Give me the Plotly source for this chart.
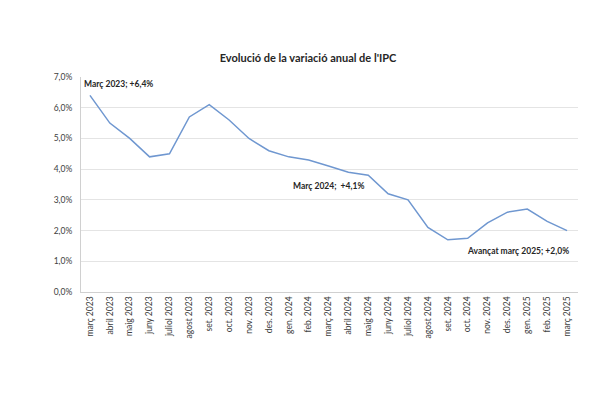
import plotly.graph_objects as go

months = ["març 2023", "abril 2023", "maig 2023", "juny 2023", "juliol 2023", "agost 2023",
          "set. 2023", "oct. 2023", "nov. 2023", "des. 2023", "gen. 2024", "feb. 2024",
          "març 2024", "abril 2024", "maig 2024", "juny 2024", "juliol 2024", "agost 2024",
          "set. 2024", "oct. 2024", "nov. 2024", "des. 2024", "gen. 2025", "feb. 2025", "març 2025"]
ipc = [6.4, 5.5, 5.0, 4.4, 4.5, 5.7, 6.1, 5.6, 5.0, 4.6, 4.4, 4.3,
       4.1, 3.9, 3.8, 3.2, 3.0, 2.1, 1.7, 1.75, 2.25, 2.6, 2.7, 2.3, 2.0]
ytick_vals = [0, 1, 2, 3, 4, 5, 6, 7]
ytick_text = ["0,0%", "1,0%", "2,0%", "3,0%", "4,0%", "5,0%", "6,0%", "7,0%"]

FONT = "Lato, Open Sans, sans-serif"

fig = go.Figure()
fig.add_trace(go.Scatter(x=months, y=ipc, mode="lines",
                         line=dict(color="#6F97D0", width=1.5), hoverinfo="skip"))

fig.update_layout(
    width=600, height=400,
    margin=dict(l=73, r=30, t=69, b=116),
    paper_bgcolor="white", plot_bgcolor="white",
    showlegend=False,
    font=dict(family=FONT, color="#404040"),
    title=dict(text="<b>Evolució de la variació anual de l'IPC</b>",
               x=0.5, xanchor="center", y=0.875, yanchor="middle",
               font=dict(size=11, color="#262626", family=FONT)),
    xaxis=dict(type="category", tickangle=-90, tickfont=dict(size=8.5, color="#404040"),
               showgrid=False, showline=True, linecolor="#D0D0D0", linewidth=1,
               ticks="", range=[-0.45, 24.55]),
    yaxis=dict(range=[0, 7], tickvals=ytick_vals, ticktext=ytick_text,
               tickfont=dict(size=8.5, color="#404040"),
               showgrid=True, gridcolor="#E4E4E4", gridwidth=1,
               showline=True, linecolor="#D0D0D0", linewidth=1, zeroline=False,
               ticks="", ticklabelstandoff=6),
)

annots = [
    dict(x=0, y=ipc[0], text="<b>Març 2023; +6,4%</b>", xanchor="left", xshift=-8, yshift=11),
    dict(x=12, y=ipc[12], text="<b>Març 2024;  +4,1%</b>", xanchor="right", xshift=37, yshift=-20),
    dict(x=24, y=ipc[24], text="<b>Avançat març 2025; +2,0%</b>", xanchor="right", xshift=4, yshift=-20),
]
for a in annots:
    fig.add_annotation(xref="x", yref="y", showarrow=False,
                       font=dict(size=8.5, color="#262626", family=FONT), **a)

fig.write_html("out.html")
